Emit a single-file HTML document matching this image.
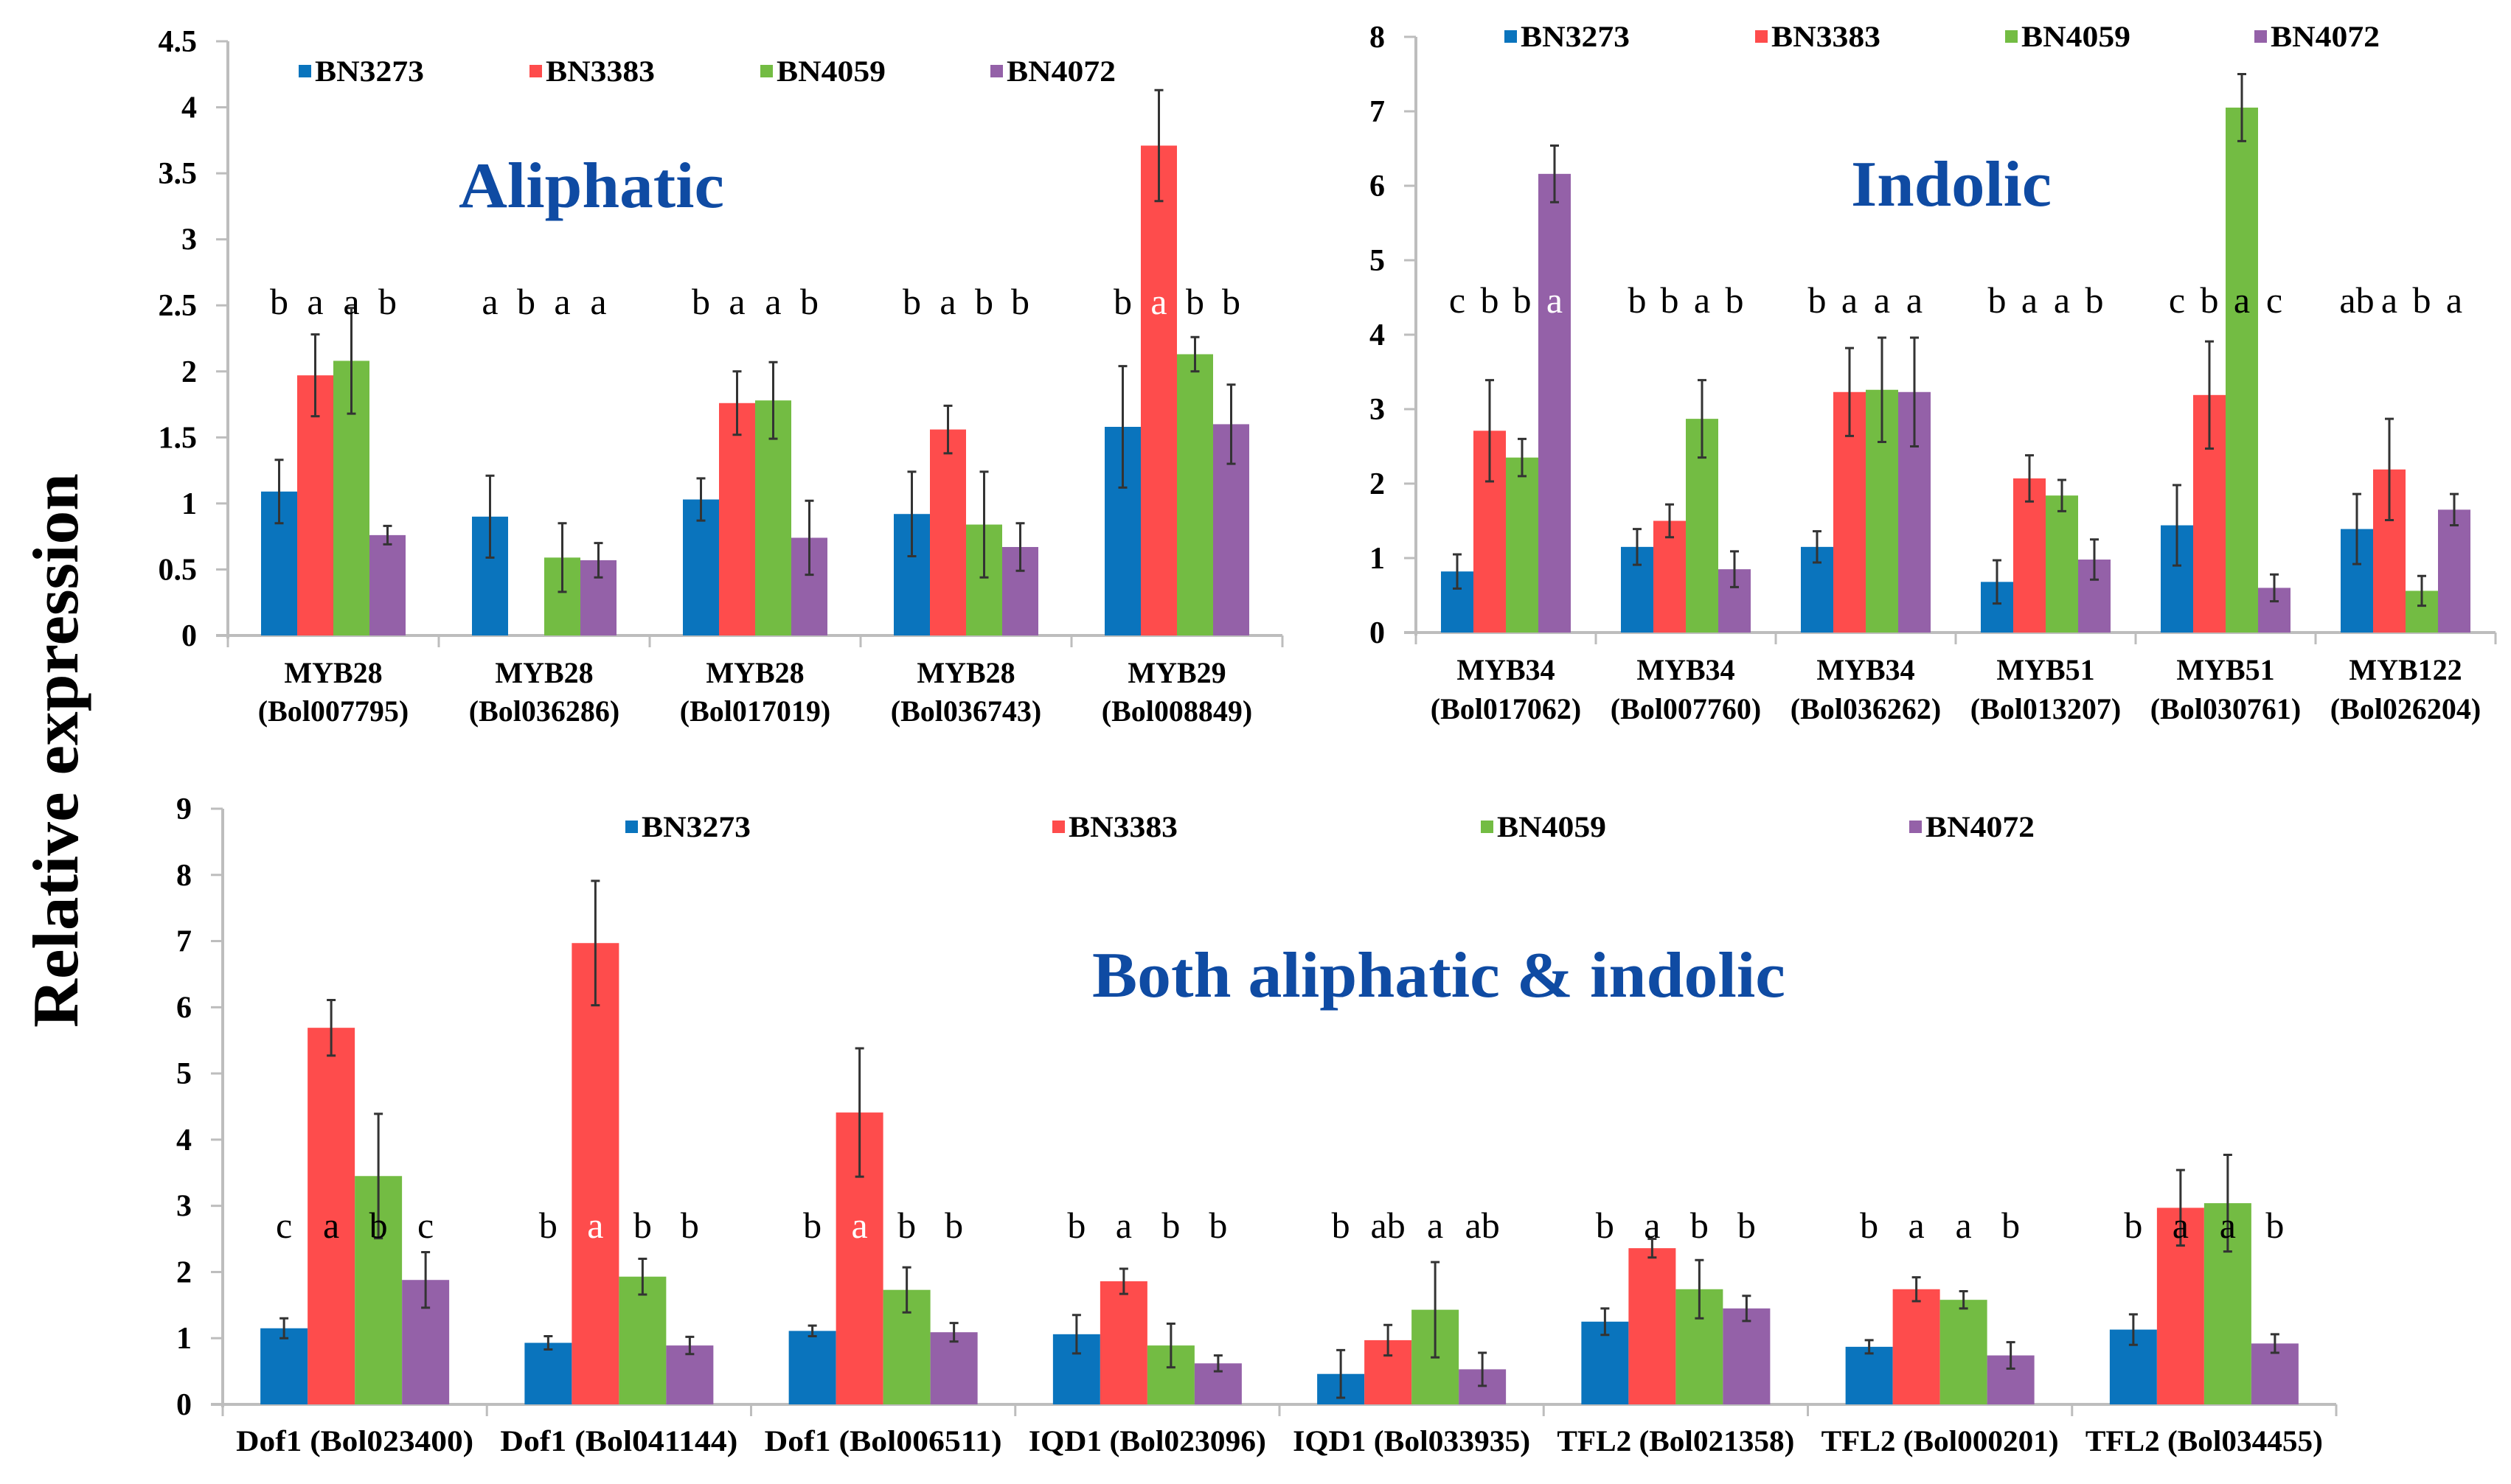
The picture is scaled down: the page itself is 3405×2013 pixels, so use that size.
<!DOCTYPE html>
<html><head><meta charset="utf-8"><style>
html,body{margin:0;padding:0;background:#fff;}
svg{display:block;}
text{font-family:"Liberation Serif",serif;}
</style></head><body>
<svg id="fig" xmlns="http://www.w3.org/2000/svg" width="3405" height="2013" viewBox="0 0 3405 2013">
<rect x="0" y="0" width="3405" height="2013" fill="#fff"/>
<text x="0" y="0" transform="translate(105,1018) rotate(-90)" text-anchor="middle" font-size="88" font-weight="bold" textLength="752" lengthAdjust="spacingAndGlyphs">Relative expression</text>
</svg>
<script>
const series = ["BN3273","BN3383","BN4059","BN4072"];
const colors = ["#0a74bd","#fe4c4c","#73bc43","#9461a8"];

const c1Cats = [["MYB28","(Bol007795)"],["MYB28","(Bol036286)"],["MYB28","(Bol017019)"],["MYB28","(Bol036743)"],["MYB29","(Bol008849)"]];
const c1Vals = [[1.09,1.97,2.08,0.76],[0.90,0,0.59,0.57],[1.03,1.76,1.78,0.74],[0.92,1.56,0.84,0.67],[1.58,3.71,2.13,1.60]];
const c1Errs = [[0.24,0.31,0.40,0.07],[0.31,0,0.26,0.13],[0.16,0.24,0.29,0.28],[0.32,0.18,0.40,0.18],[0.46,0.42,0.13,0.30]];
const c1Letters = [["b","a","a","b"],["a","b","a","a"],["b","a","a","b"],["b","a","b","b"],["b","a","b","b"]];
const c1White = [[0,0,0,0],[0,0,0,0],[0,0,0,0],[0,0,0,0],[0,1,0,0]];
const c1Ticks = ["0","0.5","1","1.5","2","2.5","3","3.5","4","4.5"];

const c2Cats = [["MYB34","(Bol017062)"],["MYB34","(Bol007760)"],["MYB34","(Bol036262)"],["MYB51","(Bol013207)"],["MYB51","(Bol030761)"],["MYB122","(Bol026204)"]];
const c2Vals = [[0.82,2.71,2.35,6.16],[1.15,1.50,2.87,0.85],[1.15,3.23,3.26,3.23],[0.68,2.07,1.84,0.98],[1.44,3.19,7.05,0.60],[1.39,2.19,0.56,1.65]];
const c2Errs = [[0.23,0.68,0.25,0.38],[0.24,0.22,0.52,0.24],[0.21,0.59,0.70,0.73],[0.29,0.31,0.21,0.27],[0.54,0.72,0.45,0.18],[0.47,0.68,0.20,0.21]];
const c2Letters = [["c","b","b","a"],["b","b","a","b"],["b","a","a","a"],["b","a","a","b"],["c","b","a","c"],["ab","a","b","a"]];
const c2White = [[0,0,0,1],[0,0,0,0],[0,0,0,0],[0,0,0,0],[0,0,0,0],[0,0,0,0]];
const c2Ticks = ["0","1","2","3","4","5","6","7","8"];

const c3Cats = [["Dof1 (Bol023400)"],["Dof1 (Bol041144)"],["Dof1 (Bol006511)"],["IQD1 (Bol023096)"],["IQD1 (Bol033935)"],["TFL2 (Bol021358)"],["TFL2 (Bol000201)"],["TFL2 (Bol034455)"]];
const c3Vals = [[1.15,5.69,3.45,1.88],[0.93,6.97,1.93,0.89],[1.11,4.41,1.73,1.09],[1.06,1.86,0.89,0.62],[0.46,0.97,1.43,0.53],[1.25,2.36,1.74,1.45],[0.87,1.74,1.58,0.74],[1.13,2.97,3.04,0.92]];
const c3Errs = [[0.15,0.42,0.94,0.42],[0.10,0.94,0.27,0.13],[0.08,0.97,0.34,0.14],[0.29,0.19,0.33,0.12],[0.36,0.23,0.72,0.25],[0.20,0.14,0.44,0.19],[0.10,0.18,0.13,0.20],[0.23,0.57,0.73,0.14]];
const c3Letters = [["c","a","b","c"],["b","a","b","b"],["b","a","b","b"],["b","a","b","b"],["b","ab","a","ab"],["b","a","b","b"],["b","a","a","b"],["b","a","a","b"]];
const c3White = [[0,0,0,0],[0,1,0,0],[0,1,0,0],[0,0,0,0],[0,0,0,0],[0,0,0,0],[0,0,0,0],[0,0,0,0]];
const c3Ticks = ["0","1","2","3","4","5","6","7","8","9"];

const NS = "http://www.w3.org/2000/svg";
const svg = document.getElementById("fig");
function mk(tag, attrs, parent, txt){
  const e = document.createElementNS(NS, tag);
  for (const k in attrs) e.setAttribute(k, attrs[k]);
  if (txt !== undefined) e.textContent = txt;
  (parent || svg).appendChild(e);
  return e;
}

function chart(cfg){
  const g = mk("g", {});
  
  
  const yScale = v => cfg.y0 - (v / cfg.max) * (cfg.y0 - cfg.yTop);
  const n = cfg.cats.length;
  const gw = (cfg.xR - cfg.x0) / n;
  const ya = mk("line", {x1:cfg.x0, y1:cfg.yTop, x2:cfg.x0, y2:cfg.y0+4, stroke:"#bdbdbd", "stroke-width":4}, g);
  
  
  const xa = mk("line", {x1:cfg.x0-16, y1:cfg.y0, x2:cfg.xR, y2:cfg.y0, stroke:"#bdbdbd", "stroke-width":4}, g);
  
  
  cfg.ticks.forEach((t, i) => {
    const v = parseFloat(t);
    const y = yScale(v);
    mk("line", {x1:cfg.x0-16, y1:y, x2:cfg.x0, y2:y, stroke:"#bdbdbd", "stroke-width":3}, g);
    const tl = mk("text", {x:cfg.x0-42, y:y+14, "text-anchor":"end", "font-size":42, "font-weight":"bold"}, g, t);
    
    
  });
  for (let i = 0; i <= n; i++) {
    const x = cfg.x0 + i * gw;
    mk("line", {x1:x, y1:cfg.y0, x2:x, y2:cfg.y0+16, stroke:"#bdbdbd", "stroke-width":3}, g);
  }
  series.forEach((s, k) => {
    const lx = cfg.legX[k];
    const sq = mk("rect", {x:lx, y:cfg.legY-9, width:17, height:17, fill:colors[k]}, g);
    
    
    const lt = mk("text", {x:lx+22, y:cfg.legY+13, "font-size":40, "font-weight":"bold", "textLength":cfg.legW, "lengthAdjust":"spacingAndGlyphs"}, g, s);
    
    
  });
  const tt = mk("text", {x:cfg.titleX, y:cfg.titleY, "font-size":cfg.titleSize, "font-weight":"bold", fill:"#0f4ba3", "textLength":cfg.titleW, "lengthAdjust":"spacingAndGlyphs"}, g, cfg.title);
  
  
  cfg.vals.forEach((row, i) => {
    const cx = cfg.x0 + (i + 0.5) * gw;
    const start = cx - 2 * cfg.bw;
    row.forEach((v, k) => {
      const x = start + k * cfg.bw;
      const y = yScale(v);
      if (v > 0) {
        const b = mk("rect", {x:x, y:y, width:cfg.bw, height:cfg.y0 - y, fill:colors[k]}, g);
        
        
        const e = cfg.errs[i][k];
        if (e > 0) {
          const bx = x + cfg.bw / 2;
          const eb = mk("path", {d:`M${bx},${yScale(v+e)}V${yScale(v-e)}M${bx-6},${yScale(v+e)}H${bx+6}M${bx-6},${yScale(v-e)}H${bx+6}`, stroke:"#333", "stroke-width":3, fill:"none"}, g);
          
          
        }
      }
      const lt = mk("text", {x:x + cfg.bw/2, y:cfg.letY, "text-anchor":"middle", "font-family":"Liberation Sans, sans-serif", "font-size":50, fill: cfg.white[i][k] ? "#fff" : "#000"}, g, cfg.letters[i][k]);
      
      
    });
    cfg.cats[i].forEach((line, j) => {
      const attrs = {x:cx, y:cfg.catY + j * cfg.catDy, "text-anchor":"middle", "font-size":40, "font-weight":"bold"};
      if (cfg.catW) { attrs.textLength = cfg.catW; attrs.lengthAdjust = "spacingAndGlyphs"; }
      const cl = mk("text", attrs, g, line);
      
      
    });
  });
}

chart({name:"aliphatic-chart", x0:309, xR:1739, y0:862, yTop:56, max:4.5, ticks:c1Ticks,
  cats:c1Cats, vals:c1Vals, errs:c1Errs, letters:c1Letters, white:c1White, bw:49,
  legX:[405,718,1031,1343], legY:97, legW:148, title:"Aliphatic", titleX:622, titleY:281, titleSize:88, titleW:360,
  letY:426, catY:926, catDy:52});
chart({name:"indolic-chart", x0:1920, xR:3384, y0:858, yTop:50, max:8, ticks:c2Ticks,
  cats:c2Cats, vals:c2Vals, errs:c2Errs, letters:c2Letters, white:c2White, bw:44,
  legX:[2040,2380,2719,3057], legY:50, legW:148, title:"Indolic", titleX:2510, titleY:279, titleSize:88, titleW:272,
  letY:424, catY:922, catDy:53});
chart({name:"both-chart", x0:302, xR:3168, y0:1905, yTop:1097, max:9, ticks:c3Ticks,
  cats:c3Cats, vals:c3Vals, errs:c3Errs, letters:c3Letters, white:c3White, bw:64,
  legX:[848,1427,2008,2589], legY:1122, legW:148, title:"Both aliphatic & indolic", titleX:1481, titleY:1352, titleSize:88, titleW:940,
  letY:1679, catY:1968, catDy:0, catW:322});
</script>
</body></html>
